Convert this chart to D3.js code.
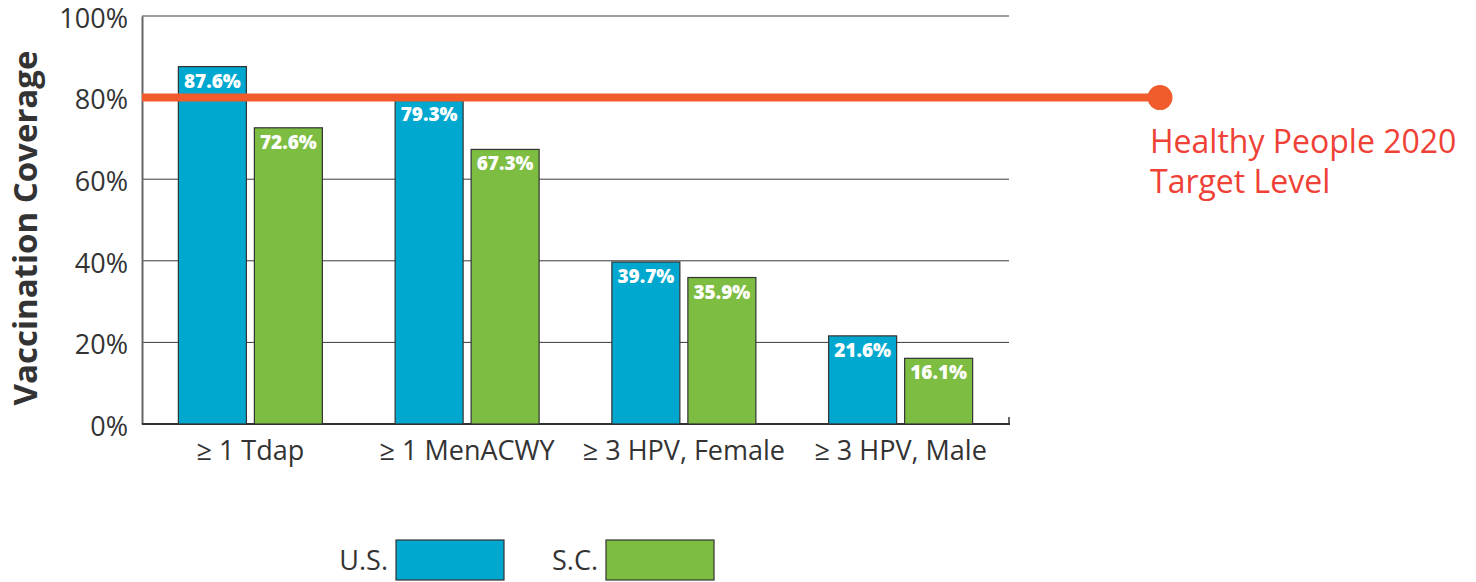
<!DOCTYPE html>
<html>
<head>
<meta charset="utf-8">
<script src="https://cdn.jsdelivr.net/npm/d3@7"></script>
<style>
  body { margin: 0; background: #fff; }
  svg text { font-family: "Open Sans", sans-serif; }
</style>
</head>
<body>
<div id="chart"></div>
<script>
// data
const categories = ["≥ 1 Tdap", "≥ 1 MenACWY", "≥ 3 HPV, Female", "≥ 3 HPV, Male"];
const seriesNames = ["U.S.", "S.C."];
const usValues = [87.6, 79.3, 39.7, 21.6];
const scValues = [72.6, 67.3, 35.9, 16.1];
const yTicks = [0, 20, 40, 60, 80, 100];
const targetLevel = 80;
const targetLabel = ["Healthy People 2020", "Target Level"];

const W = 1476, H = 582;
const plot = { left: 142, right: 1009, top: 16, bottom: 424 };
const colors = ["#00a8cf", "#7dbd41"];

const svg = d3.select("#chart").append("svg")
  .attr("width", W).attr("height", H);

const x0 = d3.scaleBand().domain(categories).range([plot.left, plot.right]);
const x1 = d3.scaleBand().domain(seriesNames)
  .range([x0.bandwidth() / 2 - 72, x0.bandwidth() / 2 + 72])
  .paddingInner(8 / 76);
const y = d3.scaleLinear().domain([0, 100]).range([plot.bottom, plot.top]);

// gridlines
svg.append("g")
  .selectAll("line")
  .data(yTicks.filter(d => d > 0))
  .join("line")
  .attr("x1", plot.left).attr("x2", plot.right)
  .attr("y1", d => y(d)).attr("y2", d => y(d))
  .attr("stroke", "#3a3a3a").attr("stroke-width", 1);

// y axis
const yAxis = svg.append("g")
  .attr("transform", `translate(${plot.left},0)`)
  .call(d3.axisLeft(y).tickValues(yTicks).tickSize(0).tickPadding(14).tickFormat(d => d + "%"));
yAxis.select(".domain").attr("stroke", "#666").attr("stroke-width", 2);
yAxis.selectAll("text")
  .attr("font-size", 27).attr("fill", "#333")
  .attr("dy", "0.42em")
  .attr("font-family", "Open Sans, sans-serif");

// bottom axis line + right tick
svg.append("line")
  .attr("x1", plot.left).attr("x2", plot.right + 1)
  .attr("y1", plot.bottom).attr("y2", plot.bottom)
  .attr("stroke", "#333").attr("stroke-width", 2);
svg.append("line")
  .attr("x1", plot.right).attr("x2", plot.right)
  .attr("y1", plot.bottom - 7).attr("y2", plot.bottom)
  .attr("stroke", "#333").attr("stroke-width", 1.5);

// category labels
svg.append("g")
  .selectAll("text")
  .data(categories)
  .join("text")
  .attr("x", d => x0(d) + x0.bandwidth() / 2)
  .attr("y", 460)
  .attr("text-anchor", "middle")
  .attr("font-size", 27).attr("fill", "#333")
  .text(d => d);

// bars
const rows = categories.map((c, i) => ({ cat: c, vals: [usValues[i], scValues[i]] }));
const groups = svg.append("g").selectAll("g")
  .data(rows)
  .join("g")
  .attr("transform", d => `translate(${x0(d.cat)},0)`);

const bars = groups.selectAll("g")
  .data(d => d.vals.map((v, i) => ({ key: seriesNames[i], value: v, idx: i })))
  .join("g");

bars.append("rect")
  .attr("x", d => x1(d.key))
  .attr("width", x1.bandwidth())
  .attr("y", d => y(d.value))
  .attr("height", d => y(0) - y(d.value))
  .attr("fill", d => colors[d.idx])
  .attr("stroke", "#333").attr("stroke-width", 1.2);

bars.append("text")
  .attr("x", d => x1(d.key) + x1.bandwidth() / 2)
  .attr("y", d => y(d.value) + 21)
  .attr("text-anchor", "middle")
  .attr("font-family", "Lato, sans-serif")
  .attr("font-weight", 900)
  .attr("font-size", 19)
  .attr("fill", "#fff")
  .text(d => d.value.toFixed(1) + "%");

// target line
const lineEnd = 1160;
svg.append("line")
  .attr("x1", plot.left).attr("x2", lineEnd)
  .attr("y1", y(targetLevel)).attr("y2", y(targetLevel))
  .attr("stroke", "#f15a2b").attr("stroke-width", 8);
svg.append("circle")
  .attr("cx", lineEnd).attr("cy", y(targetLevel)).attr("r", 12.5)
  .attr("fill", "#f15a2b");

svg.append("text")
  .attr("x", 1150).attr("y", 153)
  .attr("font-family", "Lato, sans-serif")
  .attr("font-size", 32).attr("fill", "#ef4136")
  .selectAll("tspan")
  .data(targetLabel)
  .join("tspan")
  .attr("x", 1150)
  .attr("dy", (d, i) => i === 0 ? 0 : 40)
  .text(d => d);

// y axis title
svg.append("text")
  .attr("transform", `translate(37,${(plot.top + plot.bottom) / 2 + 8}) rotate(-90)`)
  .attr("text-anchor", "middle")
  .attr("font-weight", 700)
  .attr("font-size", 33).attr("fill", "#333")
  .text("Vaccination Coverage");

// legend
const legendItems = [
  { name: seriesNames[0], color: colors[0], tx: 388, bx: 396 },
  { name: seriesNames[1], color: colors[1], tx: 598, bx: 606 }
];
const lg = svg.append("g").selectAll("g").data(legendItems).join("g");
lg.append("text")
  .attr("x", d => d.tx).attr("y", 570)
  .attr("text-anchor", "end")
  .attr("font-size", 27).attr("fill", "#333")
  .text(d => d.name);
lg.append("rect")
  .attr("x", d => d.bx).attr("y", 540)
  .attr("width", 108).attr("height", 40)
  .attr("fill", d => d.color)
  .attr("stroke", "#333").attr("stroke-width", 1.2);
</script>
</body>
</html>
